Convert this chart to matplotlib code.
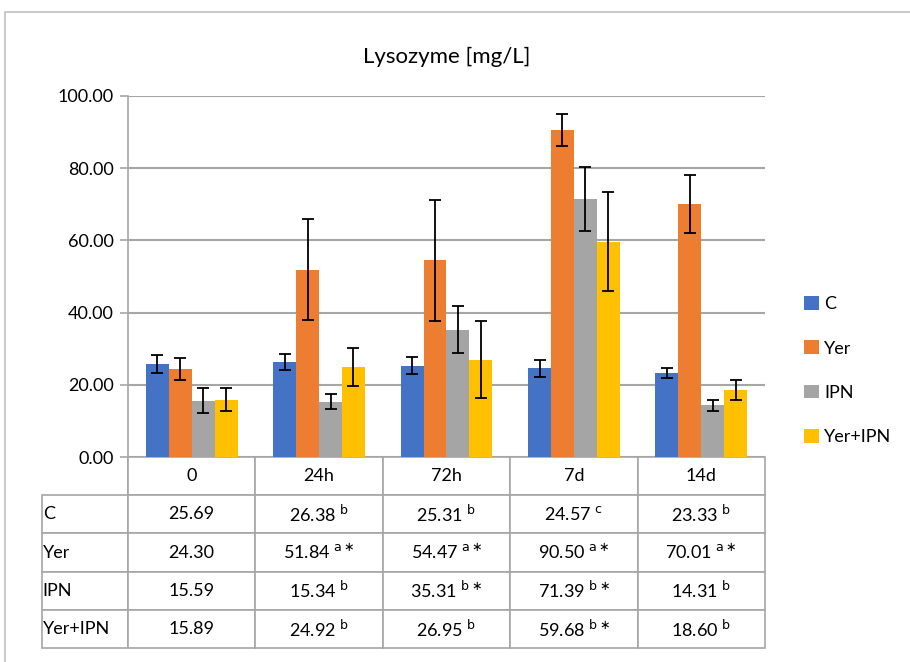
import numpy as np
import matplotlib
matplotlib.use("Agg")
import matplotlib.pyplot as plt
from matplotlib.patches import Rectangle

plt.rcParams['font.family'] = ['Lato', 'DejaVu Sans']

# data
times = ['0', '24h', '72h', '7d', '14d']
groups = ['C', 'Yer', 'IPN', 'Yer+IPN']
c_vals = [25.69, 26.38, 25.31, 24.57, 23.33]
yer_vals = [24.30, 51.84, 54.47, 90.50, 70.01]
ipn_vals = [15.59, 15.34, 35.31, 71.39, 14.31]
yeripn_vals = [15.89, 24.92, 26.95, 59.68, 18.60]
c_err = [2.5, 2.2, 2.3, 2.4, 1.4]
yer_err = [3.0, 14.0, 16.7, 4.4, 8.0]
ipn_err = [3.5, 2.1, 6.5, 8.9, 1.5]
yeripn_err = [3.2, 5.2, 10.7, 13.8, 2.7]
c_sup = ['', 'b', 'b', 'c', 'b']
yer_sup = ['', 'a*', 'a*', 'a*', 'a*']
ipn_sup = ['', 'b', 'b*', 'b*', 'b']
yeripn_sup = ['', 'b', 'b', 'b*', 'b']

colors = ['#4472C4', '#ED7D31', '#A5A5A5', '#FFC000']
series = [c_vals, yer_vals, ipn_vals, yeripn_vals]
errs = [c_err, yer_err, ipn_err, yeripn_err]
sups = [c_sup, yer_sup, ipn_sup, yeripn_sup]

W, H = 910, 662
fig = plt.figure(figsize=(W / 100, H / 100), dpi=100)

# outer frame
fig.patches.append(Rectangle((5 / W, -0.05), 1.1, 1 - 12 / H + 0.05,
                             transform=fig.transFigure, fill=False,
                             edgecolor='#c0c0c0', linewidth=1.2))

left, right, top, bottom = 128, 765, 96, 457
ax = fig.add_axes([left / W, 1 - bottom / H, (right - left) / W, (bottom - top) / H])

x = np.arange(len(times))
bw = 0.18
for i, (vals, err, col) in enumerate(zip(series, errs, colors)):
    ax.bar(x + (i - 1.5) * bw, vals, bw, color=col, label=groups[i], zorder=3,
           yerr=err, error_kw=dict(ecolor='black', elinewidth=1.3, capsize=4, capthick=1.3, zorder=4))

ax.set_xlim(-0.5, len(times) - 0.5)
ax.set_ylim(0, 100)
ax.set_yticks(np.arange(0, 101, 20))
ax.set_yticklabels([f'{v:.2f}' for v in np.arange(0, 101, 20)], fontsize=13)
ax.set_xticks([])
ax.grid(axis='y', color='#a6a6a6', linewidth=1.5, zorder=0)
for s in ['top', 'right', 'bottom']:
    ax.spines[s].set_visible(False)
ax.spines['left'].set_color('#a6a6a6')
ax.spines['left'].set_linewidth(1.2)
ax.tick_params(axis='y', length=6, color='#a6a6a6', width=1.2, pad=4)

fig.text((left + right) / 2 / W, 1 - 57 / H, 'Lysozyme [mg/L]', ha='center', va='center', fontsize=16)

# data table
cell_text = [[''] + times]
for g, vals, sp in zip(groups, series, sups):
    row = [g]
    for v, s in zip(vals, sp):
        txt = f'{v:.2f}'
        if s:
            txt += r' $^{\mathrm{' + s.replace('*', r'\ast') + '}}$'
        row.append(txt)
    cell_text.append(row)

tleft, tbottom = 42, 648
bbox = [(tleft - left) / (right - left), -(tbottom - bottom) / (bottom - top),
        (right - tleft) / (right - left), (tbottom - bottom) / (bottom - top)]
tab = ax.table(cellText=cell_text, bbox=bbox, cellLoc='center')
tab.auto_set_font_size(False)
tab.set_fontsize(13)
for (r, c), cell in tab.get_celld().items():
    cell.set_edgecolor('#a6a6a6')
    cell.set_linewidth(1.2)
    cell.set_width(86 if c == 0 else 127.4)
    if c == 0:
        cell._loc = 'left'
        cell.get_text().set_ha('left')
        cell.PAD = 0.01
    if r == 0 and c == 0:
        cell.visible_edges = 'R'

fig.legend(loc='upper left', bbox_to_anchor=(788 / W, 1 - 280 / H), frameon=False,
           fontsize=13, handlelength=0.8, handleheight=0.8, labelspacing=1.55,
           handletextpad=0.3)

fig.savefig('out.png', dpi=100)
